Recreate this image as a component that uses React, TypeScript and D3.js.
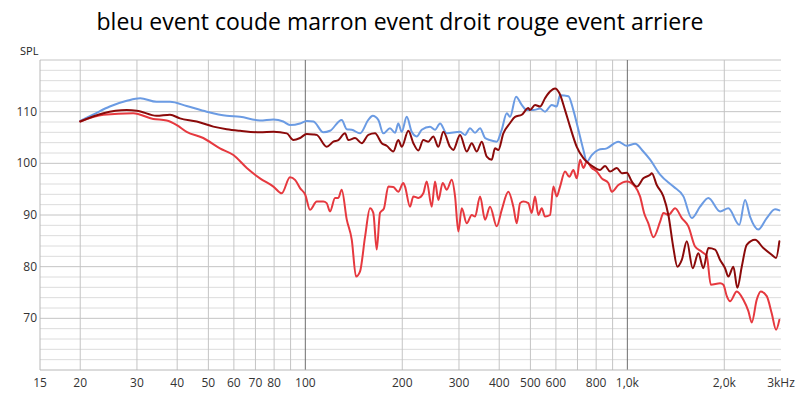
import React from 'react';
import * as d3 from 'd3';

const title = 'bleu event coude marron event droit rouge event arriere';

const yTicks = [70, 80, 90, 100, 110];
const xTickValues = [15, 20, 30, 40, 50, 60, 70, 80, 100, 200, 300, 400, 500, 600, 800, 1000, 2000, 3000];
const xTickLabels = ['15', '20', '30', '40', '50', '60', '70', '80', '100', '200', '300', '400', '500', '600', '800', '1,0k', '2,0k', '3kHz'];

// [Hz, dB SPL]
const bleuCoude: [number, number][] = [
  [20, 108.2], [21.9, 109.4], [24.7, 111.0], [27.9, 112.1], [30.7, 112.6], [34.5, 111.9], [38, 111.9],
  [42.8, 111.1], [49.4, 110.0], [57, 109.2], [62.7, 109.0], [72.3, 108.3], [79.6, 108.5], [85.4, 108.1],
  [89.6, 107.4], [96.3, 107.7], [101, 108.2], [106, 108.1], [113.7, 106.0], [119.3, 106.3], [129.7, 108.4],
  [134.5, 106.6], [139.4, 106.5], [147.9, 105.8], [156.9, 108.4], [161.9, 109.2], [168.5, 108.4],
  [174.7, 105.8], [183.2, 106.8], [189.9, 105.9], [194.4, 107.7], [199.3, 106.1], [206.5, 109.0],
  [214, 106.1], [221.8, 105.2], [229.9, 106.5], [243.9, 107.1], [252.8, 106.5], [262, 107.7],
  [274.9, 105.8], [302.3, 106.1], [313.3, 105.5], [324.7, 106.8], [336.5, 105.9], [348.8, 106.8],
  [361.5, 104.9], [374.6, 104.5], [393, 104.2], [407.3, 106.5], [422.2, 109.7], [432.3, 109.0],
  [451.2, 112.9], [470, 111.3], [487, 110.3], [510.5, 110.3], [535.6, 110.6], [555.1, 110.0],
  [582.4, 111.3], [603.6, 111.0], [618, 113.2], [655.9, 113.0], [679.7, 110.3], [704.5, 106.5],
  [730.3, 102.6], [748.2, 100.3], [775.3, 101.6], [812.8, 102.6], [863, 102.9], [937.6, 104.2],
  [995.7, 103.4], [1057, 103.8], [1121, 102.3], [1177, 100.7], [1264, 97.8], [1390, 95.5], [1493, 93.6],
  [1585, 89.4], [1682, 91.6], [1785, 93.3], [1941, 90.7], [2059, 91.3], [2227, 88.1], [2320, 92.9],
  [2404, 89.7], [2551, 87.2], [2709, 89.4], [2875, 91.1], [2965, 90.9],
];

const marronDroit: [number, number][] = [
  [20, 108.1], [23.6, 109.7], [27.9, 110.3], [29.95, 110.2], [34.5, 109.2], [38, 109.4], [40.8, 108.7],
  [46, 108.1], [51.8, 107.1], [57, 106.6], [62.7, 106.3], [72.3, 106.0], [79.6, 106.1], [87.6, 105.8],
  [91.8, 104.5], [96.3, 104.9], [101, 105.7], [106, 105.6], [108.5, 105.5], [116.5, 103.2], [122.2, 104.2],
  [126.6, 104.5], [132.8, 105.8], [136, 104.5], [142.7, 104.9], [149.7, 103.9], [156.9, 105.5],
  [164.6, 105.8], [172.7, 103.9], [178.9, 103.4], [187.6, 102.3], [194.4, 104.5], [199.3, 103.2],
  [208.9, 106.3], [216.5, 103.9], [224.4, 102.5], [232.5, 104.5], [241, 104.2], [249.7, 105.2],
  [258.8, 103.2], [268.3, 106.1], [281.4, 103.2], [288.1, 102.6], [302.3, 105.5], [317.1, 102.3],
  [328.7, 103.9], [340.7, 102.3], [353.1, 104.2], [365.9, 101.3], [379.2, 100.7], [388.2, 102.9],
  [397.5, 102.6], [412, 105.8], [432.3, 107.8], [448, 109.0], [470, 109.4], [492.6, 110.7], [498.6, 110.3],
  [516.8, 111.3], [535.6, 111.0], [555.1, 112.6], [575.3, 113.9], [596.3, 114.5], [614.9, 113.6],
  [640.5, 110.3], [663.8, 107.1], [696.5, 103.2], [730.3, 101.0], [756.8, 100.0], [784.3, 99.3],
  [822.7, 98.7], [852.6, 99.5], [883.8, 98.4], [927.1, 99.1], [960.7, 98.1], [995.7, 98.2], [1032, 96.5],
  [1070, 95.5], [1121, 97.1], [1177, 97.8], [1191, 98.1], [1234, 95.8], [1294, 93.6], [1341, 90.0],
  [1390, 83.6], [1430, 80.0], [1476, 81.3], [1530, 84.9], [1596, 79.7], [1661, 82.6], [1722, 79.7],
  [1785, 83.6], [1873, 83.3], [1941, 81.3], [2011, 79.7], [2059, 78.1], [2134, 80.0], [2196, 75.9],
  [2266, 80.0], [2348, 84.2], [2492, 85.2], [2644, 83.6], [2807, 82.3], [2896, 81.7], [2965, 84.9],
];

const rougeArriere: [number, number][] = [
  [20, 108.1], [23.6, 109.4], [29.2, 109.7], [33.7, 108.6], [37.1, 108.3], [39.9, 107.4], [42.8, 106.1],
  [48.2, 104.9], [54.3, 102.9], [59.8, 101.6], [65.8, 99.1], [72.3, 97.1], [79.6, 95.5], [84.5, 94.2],
  [89.6, 97.3], [92.9, 96.8], [96.3, 95.2], [100, 93.9], [103.4, 91.0], [108.5, 92.6], [113.7, 92.6],
  [116.5, 92.3], [119.3, 90.7], [123.7, 93.3], [126.6, 93.3], [129.7, 94.9], [134.5, 89.1], [139.4, 85.2],
  [143.7, 78.1], [147.9, 79.1], [153.3, 85.8], [158.8, 91.3], [162.6, 90.4], [166.6, 83.3], [170.6, 90.4],
  [175.5, 91.3], [181, 95.5], [187.6, 95.4], [194.4, 94.5], [201.5, 96.2], [204, 95.5], [211.4, 91.6],
  [216.5, 93.6], [224.4, 93.3], [232.5, 94.2], [238.2, 96.5], [246.9, 91.6], [252.8, 96.5], [258.8, 92.9],
  [267.1, 96.2], [274.9, 94.9], [284.9, 96.8], [291.7, 93.6], [298.7, 86.8], [306, 91.3], [317.1, 88.4],
  [328.7, 90.0], [336.5, 89.7], [348.8, 93.6], [361.5, 89.1], [374.6, 91.6], [393, 87.8], [407.3, 91.0],
  [427, 94.5], [442.6, 91.6], [453.5, 88.4], [464.4, 92.3], [475.3, 92.6], [492.6, 92.3], [504.7, 90.4],
  [516.8, 93.6], [529.1, 90.0], [542.2, 91.3], [555.1, 89.7], [575.3, 90.0], [589.1, 95.5], [603.6, 93.6],
  [618, 95.5], [640.5, 98.4], [660.6, 97.4], [679.7, 98.7], [696.5, 97.1], [713.2, 100.7], [730.3, 99.1],
  [748.2, 100.3], [775.3, 99.1], [803.6, 98.4], [832.8, 97.1], [873, 96.2], [894.6, 94.5], [937.6, 95.8],
  [995.7, 96.5], [1057, 95.5], [1095, 93.6], [1127, 90.4], [1162, 88.4], [1205, 85.7], [1264, 88.7],
  [1294, 90.4], [1341, 90.0], [1407, 91.3], [1476, 89.4], [1547, 87.8], [1623, 83.9], [1702, 82.9],
  [1765, 82.0], [1816, 76.5], [1941, 76.8], [1987, 76.5], [2036, 74.3], [2084, 73.3], [2187, 75.2],
  [2292, 73.6], [2376, 71.4], [2434, 69.2], [2522, 73.6], [2595, 75.2], [2709, 74.3], [2807, 71.0],
  [2896, 67.8], [2965, 69.7],
];

const seriesList = [
  { name: 'bleu', data: bleuCoude, color: '#6b9be3' },
  { name: 'rouge', data: rougeArriere, color: '#e6393f' },
  { name: 'marron', data: marronDroit, color: '#8b0a0a' },
];

const W = 800;
const H = 394;
const left = 40;
const right = 781;
const top = 60;
const bottom = 370;

const App: React.FC = () => {
  const x = d3.scaleLog().domain([15, 3000]).range([left, right]);
  const y = d3.scaleLinear().domain([60, 120]).range([bottom, top]);

  const line = d3.line<[number, number]>()
    .x(d => x(d[0]))
    .y(d => y(d[1]))
    .curve(d3.curveMonotoneX);

  // grid lines: 1..9 x decade
  const vGrid: number[] = [];
  [10, 100, 1000].forEach(dec => {
    for (let k = 1; k < 10; k++) {
      const f = dec * k;
      if (f >= 20 && f < 3000) vGrid.push(f);
    }
  });
  const hGrid = d3.range(62, 121, 2);

  const font = '"Open Sans", "Noto Sans", sans-serif';

  return (
    <svg width={W} height={H} style={{ display: 'block', background: '#fff' }}>
      <style>{`body { margin: 0; }`}</style>
      <text x={W / 2} y={30} textAnchor="middle" fontFamily={font} fontSize={23} fill="#000">
        {title}
      </text>
      <text x={20} y={55} fontFamily={font} fontSize={11} fill="#222">SPL</text>

      {hGrid.map(v => (
        <line key={'h' + v} x1={left} x2={right} y1={y(v)} y2={y(v)}
          stroke={v % 10 === 0 ? '#c4c4c4' : '#dcdcdc'} strokeWidth={1} />
      ))}
      {vGrid.map(f => (
        <line key={'v' + f} x1={x(f)} x2={x(f)} y1={top} y2={bottom}
          stroke={f === 100 || f === 1000 ? '#6e6e6e' : '#c4c4c4'} strokeWidth={1} />
      ))}
      <line x1={left} x2={left} y1={top} y2={bottom} stroke="#b8b8b8" />
      <line x1={left} x2={right} y1={bottom} y2={bottom} stroke="#b8b8b8" />

      {yTicks.map(v => (
        <text key={'yt' + v} x={37} y={y(v) + 4} textAnchor="end" fontFamily={font} fontSize={12} fill="#333">
          {v}
        </text>
      ))}
      {xTickValues.map((f, i) => (
        <text key={'xt' + f} x={x(f)} y={387} textAnchor="middle" fontFamily={font} fontSize={12} fill="#333">
          {xTickLabels[i]}
        </text>
      ))}

      {seriesList.map(s => (
        <path key={s.name} d={line(s.data) || ''} fill="none" stroke={s.color}
          strokeWidth={2} strokeLinejoin="round" strokeLinecap="round" />
      ))}
    </svg>
  );
};

export default App;
